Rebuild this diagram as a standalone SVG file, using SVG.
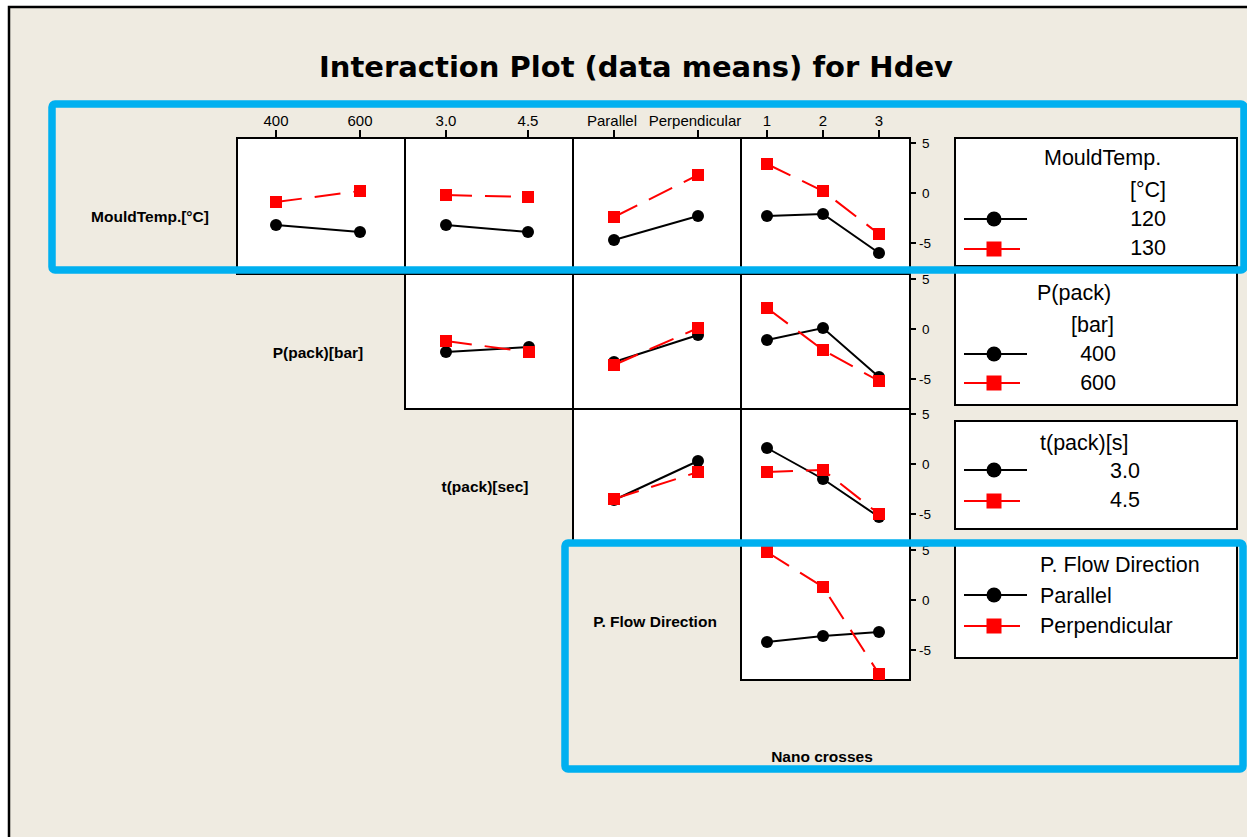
<svg xmlns="http://www.w3.org/2000/svg" width="1247" height="837" viewBox="0 0 1247 837">
  <style>
    .frame { fill: #EFEBE1; stroke: #000; stroke-width: 2.5; }
    .cell { fill: #fff; stroke: #000; stroke-width: 2; }
    .tick { stroke: #000; stroke-width: 2; }
    .xlab { font-family: "Liberation Sans", Arial, sans-serif; font-size: 15px; fill: #000; text-anchor: middle; }
    .ylab { font-family: "Liberation Sans", Arial, sans-serif; font-size: 13.5px; fill: #000; }
    .rowlab { font-family: "Liberation Sans", Arial, sans-serif; font-size: 15.5px; font-weight: bold; fill: #000; text-anchor: middle; }
    .title { font-family: "DejaVu Sans", Verdana, sans-serif; font-size: 29px; font-weight: bold; fill: #000; text-anchor: middle; }
    .blk { fill: none; stroke: #000; stroke-width: 2; }
    .red { fill: none; stroke: #f00; stroke-width: 2; stroke-dasharray: 26 13; }
    .dot { fill: #000; }
    .sq { fill: #f00; }
    .legbox { fill: #fff; stroke: #000; stroke-width: 2; }
    .legtxt { font-family: "Liberation Sans", Arial, sans-serif; font-size: 21.5px; fill: #000; }
    .legblk { stroke: #000; stroke-width: 2; }
    .legred { stroke: #f00; stroke-width: 2; }
    .hl { fill: none; stroke: #00B0F0; stroke-width: 7.5; }
  </style>
  <defs>
    <circle id="m-dot" r="6" class="dot"/>
    <rect id="m-sq" x="-6" y="-6" width="12" height="12" class="sq"/>
    <circle id="l-dot" r="7.5" class="dot"/>
    <rect id="l-sq" x="-7.5" y="-7.5" width="15" height="15" class="sq"/>
  </defs>

  <!-- page and plot background -->
  <rect x="0" y="0" width="1247" height="837" fill="#fff"/>
  <rect class="frame" x="9" y="7" width="1300" height="900"/>

  <text class="title" x="636" y="77">Interaction Plot (data means) for Hdev</text>

  <!-- top axis: factor levels -->
  <g id="x-axis">
    <g class="tick">
      <line x1="276" y1="130" x2="276" y2="138"/><line x1="360" y1="130" x2="360" y2="138"/>
      <line x1="446" y1="130" x2="446" y2="138"/><line x1="528" y1="130" x2="528" y2="138"/>
      <line x1="614" y1="130" x2="614" y2="138"/><line x1="698" y1="130" x2="698" y2="138"/>
      <line x1="767" y1="130" x2="767" y2="138"/><line x1="823" y1="130" x2="823" y2="138"/><line x1="879" y1="130" x2="879" y2="138"/>
    </g>
    <text class="xlab" x="276" y="126">400</text>
    <text class="xlab" x="360" y="126">600</text>
    <text class="xlab" x="446" y="126">3.0</text>
    <text class="xlab" x="528" y="126">4.5</text>
    <text class="xlab" x="612" y="126">Parallel</text>
    <text class="xlab" x="695" y="126">Perpendicular</text>
    <text class="xlab" x="767" y="126">1</text>
    <text class="xlab" x="823" y="126">2</text>
    <text class="xlab" x="879" y="126">3</text>
  </g>

  <!-- right axis: response scale for each row -->
  <g id="y-axis">
    <line class="tick" x1="910" y1="138" x2="910" y2="680"/>
    <g class="tick">
      <line x1="910" y1="143" x2="916" y2="143"/><line x1="910" y1="193" x2="916" y2="193"/><line x1="910" y1="243" x2="916" y2="243"/>
      <line x1="910" y1="279" x2="916" y2="279"/><line x1="910" y1="329" x2="916" y2="329"/><line x1="910" y1="379" x2="916" y2="379"/>
      <line x1="910" y1="414" x2="916" y2="414"/><line x1="910" y1="464" x2="916" y2="464"/><line x1="910" y1="514" x2="916" y2="514"/>
      <line x1="910" y1="550" x2="916" y2="550"/><line x1="910" y1="600" x2="916" y2="600"/><line x1="910" y1="650" x2="916" y2="650"/>
    </g>
    <text class="ylab" x="922" y="148">5</text><text class="ylab" x="922" y="198">0</text><text class="ylab" x="919" y="248">-5</text>
    <text class="ylab" x="922" y="284">5</text><text class="ylab" x="922" y="334">0</text><text class="ylab" x="919" y="384">-5</text>
    <text class="ylab" x="922" y="419">5</text><text class="ylab" x="922" y="469">0</text><text class="ylab" x="919" y="519">-5</text>
    <text class="ylab" x="922" y="555">5</text><text class="ylab" x="922" y="605">0</text><text class="ylab" x="919" y="655">-5</text>
  </g>

  <!-- row factor names on the diagonal -->
  <g id="row-labels">
    <text class="rowlab" x="150" y="222">MouldTemp.[°C]</text>
    <text class="rowlab" x="318" y="358">P(pack)[bar]</text>
    <text class="rowlab" x="485" y="492">t(pack)[sec]</text>
    <text class="rowlab" x="655" y="627">P. Flow Direction</text>
    <text class="rowlab" x="822" y="762">Nano crosses</text>
  </g>

  <!-- row 1: MouldTemp.[°C] -->
  <g id="r1c1">
    <rect class="cell" x="237" y="138" width="168" height="136"/>
    <polyline class="blk" points="276,225 360,232"/>
    <polyline class="red" points="276,202 360,191"/>
    <use href="#m-dot" x="276" y="225"/><use href="#m-dot" x="360" y="232"/>
    <use href="#m-sq" x="276" y="202"/><use href="#m-sq" x="360" y="191"/>
  </g>
  <g id="r1c2">
    <rect class="cell" x="405" y="138" width="168" height="136"/>
    <polyline class="blk" points="446,225 528,232"/>
    <polyline class="red" points="446,195 528,197"/>
    <use href="#m-dot" x="446" y="225"/><use href="#m-dot" x="528" y="232"/>
    <use href="#m-sq" x="446" y="195"/><use href="#m-sq" x="528" y="197"/>
  </g>
  <g id="r1c3">
    <rect class="cell" x="573" y="138" width="168" height="136"/>
    <polyline class="blk" points="614,240 698,216"/>
    <polyline class="red" points="614,217 698,175"/>
    <use href="#m-dot" x="614" y="240"/><use href="#m-dot" x="698" y="216"/>
    <use href="#m-sq" x="614" y="217"/><use href="#m-sq" x="698" y="175"/>
  </g>
  <g id="r1c4">
    <rect class="cell" x="741" y="138" width="169" height="136"/>
    <polyline class="blk" points="767,216 823,214 879,253"/>
    <polyline class="red" points="767,164 823,191 879,234"/>
    <use href="#m-dot" x="767" y="216"/><use href="#m-dot" x="823" y="214"/><use href="#m-dot" x="879" y="253"/>
    <use href="#m-sq" x="767" y="164"/><use href="#m-sq" x="823" y="191"/><use href="#m-sq" x="879" y="234"/>
  </g>

  <!-- row 2: P(pack)[bar] -->
  <g id="r2c2">
    <rect class="cell" x="405" y="274" width="168" height="135"/>
    <polyline class="blk" points="446,352 529,347"/>
    <polyline class="red" points="446,341 529,352"/>
    <use href="#m-dot" x="446" y="352"/><use href="#m-dot" x="529" y="347"/>
    <use href="#m-sq" x="446" y="341"/><use href="#m-sq" x="529" y="352"/>
  </g>
  <g id="r2c3">
    <rect class="cell" x="573" y="274" width="168" height="135"/>
    <polyline class="blk" points="614,362 698,335"/>
    <polyline class="red" points="614,365 698,328"/>
    <use href="#m-dot" x="614" y="362"/><use href="#m-dot" x="698" y="335"/>
    <use href="#m-sq" x="614" y="365"/><use href="#m-sq" x="698" y="328"/>
  </g>
  <g id="r2c4">
    <rect class="cell" x="741" y="274" width="169" height="135"/>
    <polyline class="blk" points="767,340 823,328 879,377"/>
    <polyline class="red" points="767,308 823,350 879,381"/>
    <use href="#m-dot" x="767" y="340"/><use href="#m-dot" x="823" y="328"/><use href="#m-dot" x="879" y="377"/>
    <use href="#m-sq" x="767" y="308"/><use href="#m-sq" x="823" y="350"/><use href="#m-sq" x="879" y="381"/>
  </g>

  <!-- row 3: t(pack)[sec] -->
  <g id="r3c3">
    <rect class="cell" x="573" y="409" width="168" height="136"/>
    <polyline class="blk" points="614,500 698,461"/>
    <polyline class="red" points="614,499 698,472"/>
    <use href="#m-dot" x="614" y="500"/><use href="#m-dot" x="698" y="461"/>
    <use href="#m-sq" x="614" y="499"/><use href="#m-sq" x="698" y="472"/>
  </g>
  <g id="r3c4">
    <rect class="cell" x="741" y="409" width="169" height="136"/>
    <polyline class="blk" points="767,448 823,479 879,517"/>
    <polyline class="red" points="767,472 823,470 879,514"/>
    <use href="#m-dot" x="767" y="448"/><use href="#m-dot" x="823" y="479"/><use href="#m-dot" x="879" y="517"/>
    <use href="#m-sq" x="767" y="472"/><use href="#m-sq" x="823" y="470"/><use href="#m-sq" x="879" y="514"/>
  </g>

  <!-- row 4: P. Flow Direction -->
  <g id="r4c4">
    <rect class="cell" x="741" y="545" width="169" height="135"/>
    <polyline class="blk" points="767,642 823,636 879,632"/>
    <polyline class="red" points="767,552 823,587 879,674"/>
    <use href="#m-dot" x="767" y="642"/><use href="#m-dot" x="823" y="636"/><use href="#m-dot" x="879" y="632"/>
    <use href="#m-sq" x="767" y="552"/><use href="#m-sq" x="823" y="587"/><use href="#m-sq" x="879" y="674"/>
  </g>

  <!-- legends -->
  <g id="legend-mouldtemp">
    <rect class="legbox" x="955" y="138" width="282" height="128"/>
    <text class="legtxt" x="1044" y="165">MouldTemp.</text>
    <text class="legtxt" x="1166" y="197" text-anchor="end">[°C]</text>
    <line class="legblk" x1="964" y1="219" x2="1027" y2="219"/><use href="#l-dot" x="994" y="219"/>
    <text class="legtxt" x="1166" y="226" text-anchor="end">120</text>
    <line class="legred" x1="964" y1="249" x2="1020" y2="249"/><use href="#l-sq" x="994" y="249"/>
    <text class="legtxt" x="1166" y="255" text-anchor="end">130</text>
  </g>
  <g id="legend-ppack">
    <rect class="legbox" x="955" y="272" width="282" height="133"/>
    <text class="legtxt" x="1037" y="300">P(pack)</text>
    <text class="legtxt" x="1114" y="332" text-anchor="end">[bar]</text>
    <line class="legblk" x1="964" y1="354" x2="1027" y2="354"/><use href="#l-dot" x="994" y="354"/>
    <text class="legtxt" x="1116" y="361" text-anchor="end">400</text>
    <line class="legred" x1="964" y1="383" x2="1020" y2="383"/><use href="#l-sq" x="994" y="383"/>
    <text class="legtxt" x="1116" y="390" text-anchor="end">600</text>
  </g>
  <g id="legend-tpack">
    <rect class="legbox" x="955" y="421" width="282" height="108"/>
    <text class="legtxt" x="1040" y="450">t(pack)[s]</text>
    <line class="legblk" x1="964" y1="470" x2="1027" y2="470"/><use href="#l-dot" x="994" y="470"/>
    <text class="legtxt" x="1140" y="478" text-anchor="end">3.0</text>
    <line class="legred" x1="964" y1="501" x2="1020" y2="501"/><use href="#l-sq" x="994" y="501"/>
    <text class="legtxt" x="1140" y="507" text-anchor="end">4.5</text>
  </g>
  <g id="legend-flow">
    <rect class="legbox" x="955" y="545" width="282" height="113"/>
    <text class="legtxt" x="1040" y="572">P. Flow Direction</text>
    <line class="legblk" x1="964" y1="595" x2="1027" y2="595"/><use href="#l-dot" x="994" y="595"/>
    <text class="legtxt" x="1040" y="603">Parallel</text>
    <line class="legred" x1="964" y1="626" x2="1020" y2="626"/><use href="#l-sq" x="994" y="626"/>
    <text class="legtxt" x="1040" y="633">Perpendicular</text>
  </g>

  <!-- highlight outlines -->
  <g id="highlights">
    <rect class="hl" x="52" y="104" width="1192" height="166" rx="3"/>
    <rect class="hl" x="565" y="543" width="678" height="226" rx="3"/>
  </g>
</svg>
